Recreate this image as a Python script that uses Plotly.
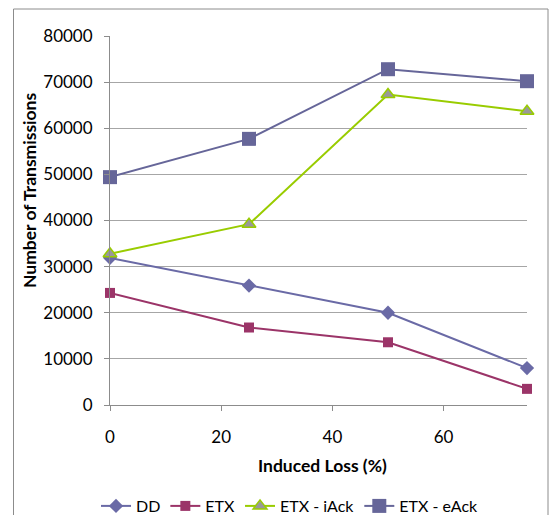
import plotly.graph_objects as go

# Induced loss levels (%) and transmission counts per routing scheme
induced_loss = [0, 25, 50, 75]
dd = [31900, 25900, 20000, 8000]
etx = [24300, 16800, 13600, 3500]
etx_iack = [32800, 39200, 67300, 63700]
etx_eack = [49400, 57700, 72800, 70200]

x_title = "Induced Loss (%)"
y_title = "Number of Transmissions"

W, H = 549, 515
ML, MR, MT, MB = 110, 22, 36, 110
FONT = "Lato, 'Open Sans', sans-serif"

fig = go.Figure()

fig.add_trace(go.Scatter(
    x=induced_loss, y=dd, name="DD", mode="lines+markers",
    line=dict(color="#6A6AA6", width=2),
    marker=dict(symbol="diamond", size=11, color="#6A6AA6"),
    cliponaxis=False,
))
fig.add_trace(go.Scatter(
    x=induced_loss, y=etx, name="ETX", mode="lines+markers",
    line=dict(color="#9B3468", width=2),
    marker=dict(symbol="square", size=10, color="#9B3468"),
    cliponaxis=False,
))
fig.add_trace(go.Scatter(
    x=induced_loss, y=etx_iack, name="ETX - iAck", mode="lines+markers",
    line=dict(color="#99CC00", width=2),
    marker=dict(symbol="triangle-up", size=12, color="#999999",
                line=dict(color="#99CC00", width=1.5)),
    cliponaxis=False,
))
fig.add_trace(go.Scatter(
    x=induced_loss, y=etx_eack, name="ETX - eAck", mode="lines+markers",
    line=dict(color="#666699", width=2),
    marker=dict(symbol="square", size=14, color="#666699"),
    cliponaxis=False,
))

pw = W - ML - MR
ph = H - MT - MB


def px_x(p):
    return (p - ML) / pw


def px_y(p):
    return (H - MB - p) / ph


# Chart-area frame
fig.add_shape(type="rect", xref="paper", yref="paper",
              x0=px_x(13.5), x1=px_x(548), y0=px_y(530), y1=px_y(9),
              line=dict(color="#8C8C8C", width=1), fillcolor="rgba(0,0,0,0)",
              layer="below")

fig.add_annotation(text=f"<b>{x_title}</b>", xref="paper", yref="paper",
                   x=px_x(322), y=px_y(466), showarrow=False,
                   xanchor="center", yanchor="middle",
                   font=dict(family=FONT, size=17.5, color="black"))
fig.add_annotation(text=f"<b>{y_title}</b>", xref="paper", yref="paper",
                   x=px_x(30), y=px_y(191), showarrow=False, textangle=-90,
                   xanchor="center", yanchor="middle",
                   font=dict(family=FONT, size=17.5, color="black"))

fig.update_layout(
    width=W, height=H,
    margin=dict(l=ML, r=MR, t=MT, b=MB, autoexpand=False),
    paper_bgcolor="white", plot_bgcolor="white",
    font=dict(family=FONT, size=17, color="black"),
    showlegend=True,
    legend=dict(orientation="h", xref="container", yref="container",
                x=96 / W, y=1 - 506 / H,
                xanchor="left", yanchor="middle",
                font=dict(family=FONT, size=16, color="black"),
                itemwidth=30, tracegroupgap=0, bgcolor="rgba(0,0,0,0)"),
    xaxis=dict(range=[0, 75], tickmode="linear", tick0=0, dtick=20,
               tickformat="d",
               showgrid=False, zeroline=False,
               showline=True, linecolor="#8C8C8C", linewidth=1,
               ticks="outside", ticklen=5, tickcolor="#8C8C8C",
               ticklabelstandoff=12,
               tickfont=dict(family=FONT, size=17, color="black")),
    yaxis=dict(range=[0, 80000], tickmode="linear", tick0=0, dtick=10000,
               tickformat="d",
               showgrid=True, gridcolor="#A6A6A6", gridwidth=1,
               zeroline=False,
               showline=True, linecolor="#8C8C8C", linewidth=1,
               ticks="outside", ticklen=5, tickcolor="#8C8C8C",
               ticklabelstandoff=8,
               tickfont=dict(family=FONT, size=17, color="black")),
)

fig.write_html("out.html")
